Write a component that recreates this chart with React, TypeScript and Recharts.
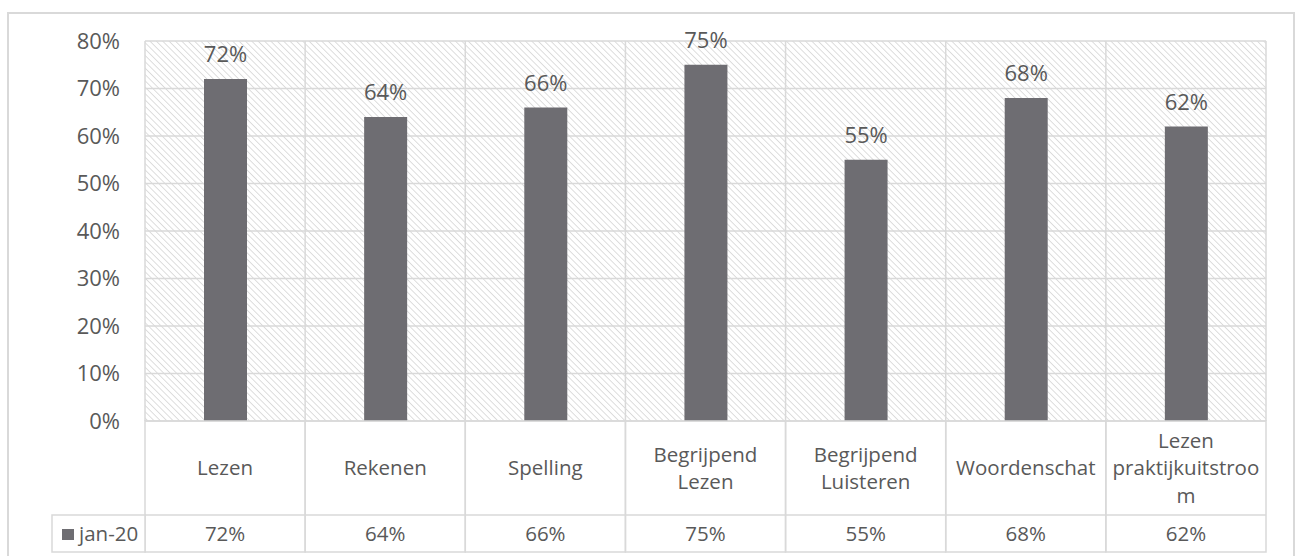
import React from 'react';
import { BarChart, Bar, XAxis, YAxis, CartesianGrid, LabelList } from 'recharts';

// Scores per subject, January 2020
const categories = [
  'Lezen',
  'Rekenen',
  'Spelling',
  'Begrijpend Lezen',
  'Begrijpend Luisteren',
  'Woordenschat',
  'Lezen praktijkuitstroom',
];
// how the names wrap inside the data table cells
const categoryLines = [
  ['Lezen'],
  ['Rekenen'],
  ['Spelling'],
  ['Begrijpend', 'Lezen'],
  ['Begrijpend', 'Luisteren'],
  ['Woordenschat'],
  ['Lezen', 'praktijkuitstroo', 'm'],
];
const jan20 = [72, 64, 66, 75, 55, 68, 62];
const seriesName = 'jan-20';
const yTicks = [0, 10, 20, 30, 40, 50, 60, 70, 80];

const data = categories.map((name, i) => ({
  name,
  lines: categoryLines[i],
  value: jan20[i],
}));

const GRID = '#d9d9d9';
const TEXT = '#595959';
const BAR = '#6e6d72';
const FONT = '"Open Sans", sans-serif';

const TableTick = (props: any) => {
  const { x, y, payload, index, width, visibleTicksCount } = props;
  const bw = payload && payload.offset ? payload.offset * 2 : width / visibleTicksCount;
  const left = x - bw / 2;
  const labelRow = 94;
  const valueRow = 37;
  const fs = 20.5;
  const lh = 27.5;
  const lines: string[] = data[index].lines;
  const mid = y + labelRow / 2;
  const firstBase = mid - ((lines.length - 1) * lh) / 2 + fs * 0.357;
  const valueBase = y + labelRow + valueRow / 2 + fs * 0.357;

  return (
    <g>
      <rect x={left} y={y} width={bw} height={labelRow + valueRow} fill="none" stroke={GRID} strokeWidth={1.5} />
      <line x1={left} x2={left + bw} y1={y + labelRow} y2={y + labelRow} stroke={GRID} strokeWidth={1.5} />
      <text textAnchor="middle" fill={TEXT} fontSize={fs} fontFamily={FONT}>
        {lines.map((ln, i) => (
          <tspan key={i} x={x} y={firstBase + i * lh}>
            {ln}
          </tspan>
        ))}
      </text>
      <text x={x} y={valueBase} textAnchor="middle" fill={TEXT} fontSize={fs} fontFamily={FONT}>
        {`${data[index].value}%`}
      </text>
      {index === 0 && (
        <g>
          <rect x={left - 93} y={y + labelRow} width={93} height={valueRow} fill="#fff" stroke={GRID} strokeWidth={1.5} />
          <rect x={left - 83} y={y + labelRow + 14} width={12} height={11} fill={BAR} />
          <text x={left - 66} y={valueBase} fill={TEXT} fontSize={fs} fontFamily={FONT}>
            {seriesName}
          </text>
        </g>
      )}
    </g>
  );
};

export default function App() {
  return (
    <div style={{ position: 'absolute', left: 0, top: 0, width: 1301, height: 556, background: '#fff', overflow: 'hidden' }}>
      <svg width={0} height={0} style={{ position: 'absolute' }}>
        <defs>
          <pattern id="hatch" width={4.5} height={4.5} patternUnits="userSpaceOnUse" patternTransform="rotate(-45)">
            <rect width={4.5} height={4.5} fill="#fff" />
            <line x1={0} y1={0} x2={0} y2={4.5} stroke="#d6d6d6" strokeWidth={1.6} />
          </pattern>
        </defs>
      </svg>
      <div
        style={{
          position: 'absolute',
          left: 7,
          top: 12,
          width: 1284,
          height: 560,
          border: `2px solid ${GRID}`,
        }}
      />
      <div style={{ position: 'absolute', left: 0, top: 0 }}>
        <BarChart
          width={1301}
          height={556}
          data={data}
          margin={{ top: 41, right: 35, left: 0, bottom: 0 }}
          barSize={43}
        >
          <CartesianGrid
            stroke={GRID}
            strokeWidth={1.5}
            fill="url(#hatch)"
            fillOpacity={1}
            verticalCoordinatesGenerator={({ offset }: any) =>
              categories.map((_, i) => offset.left + (i * offset.width) / categories.length).concat(offset.left + offset.width)
            }
          />
          <XAxis
            dataKey="name"
            interval={0}
            height={135}
            axisLine={false}
            tickLine={false}
            tickSize={0}
            tickMargin={0}
            tick={<TableTick />}
          />
          <YAxis
            width={145}
            domain={[0, 80]}
            ticks={yTicks}
            axisLine={false}
            tickLine={false}
            tickMargin={19}
            tickFormatter={(v: number) => `${v}%`}
            tick={{ fill: TEXT, fontSize: 22, fontFamily: FONT }}
          />
          <Bar dataKey="value" name={seriesName} fill={BAR} isAnimationActive={false}>
            <LabelList
              dataKey="value"
              position="top"
              offset={17}
              formatter={(v: any) => `${v}%`}
              fill={TEXT}
              fontSize={22}
              fontFamily={FONT}
            />
          </Bar>
        </BarChart>
      </div>
    </div>
  );
}
